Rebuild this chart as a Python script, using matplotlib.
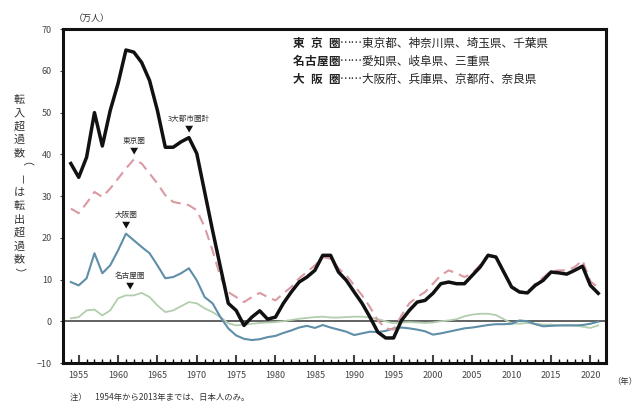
import numpy as np
import matplotlib
matplotlib.use('Agg')
import matplotlib.pyplot as plt
from matplotlib.ticker import MultipleLocator

plt.rcParams['font.family'] = ['Noto Sans CJK JP', 'DejaVu Sans']

years = list(range(1954, 2022))

# 3大都市圏計
total = [37.8, 34.5, 39.3, 50.0, 42.0, 50.5, 57.0, 65.0, 64.5, 62.0,
         57.7, 50.5, 41.7, 41.7, 43.0, 44.0, 40.2, 31.0, 21.8, 13.0,
         4.3, 2.6, -1.0, 1.0, 2.5, 0.5, 1.0, 4.3, 7.0, 9.4,
         10.6, 12.2, 15.8, 15.8, 11.8, 9.8, 7.0, 4.3, 1.0, -2.6,
         -4.0, -4.0, 0.2, 2.6, 4.6, 5.0, 6.7, 9.0, 9.4, 9.0,
         9.0, 11.0, 13.0, 15.8, 15.4, 11.8, 8.2, 7.0, 6.8, 8.6,
         9.8, 11.8, 11.6, 11.3, 12.2, 13.2, 8.6, 6.7]

# 東京圏
tokyo = [27.0, 25.9, 28.3, 31.0, 29.8, 31.8, 34.2, 36.6, 38.8, 37.8,
         35.4, 33.0, 30.2, 28.6, 28.2, 27.8, 26.6, 22.6, 17.0, 10.6,
         7.0, 5.8, 4.6, 5.8, 6.8, 5.8, 5.0, 6.7, 8.2, 10.3,
         11.8, 13.4, 15.4, 15.0, 12.7, 11.0, 8.6, 6.2, 3.4, 0.2,
         -1.7, -2.0, 1.4, 4.3, 5.8, 7.0, 9.0, 11.0, 12.2, 11.5,
         10.6, 11.5, 13.5, 16.0, 15.5, 12.0, 8.5, 7.2, 7.0, 9.0,
         10.5, 12.0, 12.2, 12.2, 13.0, 14.6, 9.6, 8.0]

# 大阪圏
osaka = [9.4, 8.6, 10.3, 16.3, 11.5, 13.4, 17.0, 21.0, 19.4, 17.8,
         16.3, 13.4, 10.3, 10.6, 11.5, 12.7, 9.8, 5.8, 4.3, 1.0,
         -1.7, -3.4, -4.2, -4.5, -4.3, -3.8, -3.5, -2.8, -2.2, -1.5,
         -1.1, -1.6, -0.9, -1.5, -2.0, -2.5, -3.3, -2.9, -2.5, -2.6,
         -2.3, -1.7, -1.5, -1.7, -2.0, -2.4, -3.2, -2.9, -2.5, -2.1,
         -1.7, -1.5, -1.2, -0.9, -0.7, -0.7, -0.6, 0.2, 0.0, -0.7,
         -1.2, -1.1, -1.0, -1.0, -1.0, -0.9, -0.6, -0.1]

# 名古屋圏
nagoya = [0.7, 1.0, 2.6, 2.8, 1.4, 2.6, 5.5, 6.2, 6.2, 6.8,
          5.8, 3.8, 2.2, 2.6, 3.6, 4.6, 4.3, 3.1, 2.2, 1.0,
          -0.5, -1.0, -0.8, -0.6, -0.4, -0.3, -0.2, 0.0, 0.3, 0.6,
          0.8, 1.0, 1.1, 0.9, 0.9, 1.0, 1.1, 1.1, 0.9, 0.5,
          0.0, -0.5, -0.3, -0.2, -0.3, -0.4, -0.3, 0.0, 0.2, 0.5,
          1.2, 1.6, 1.8, 1.8, 1.5, 0.5, -0.5, -0.6, -0.4, -0.6,
          -0.8, -0.8, -1.0, -0.9, -1.0, -1.3, -1.6, -1.0]

legend_rows = [('東京圏', '東京都、神奈川県、埼玉県、千葉県'),
               ('名古屋圏', '愛知県、岐阜県、三重県'),
               ('大阪圏', '大阪府、兵庫県、京都府、奈良県')]

W, H = 638, 405
fig = plt.figure(figsize=(6.38, 4.05), dpi=100)
ax = fig.add_axes([0.0987, 0.1037, 0.8513, 0.8243])

ax.axhline(0, color='#555555', lw=1.3, zorder=1)
ax.plot(years, nagoya, color='#b3ceae', lw=1.3, zorder=2)
ax.plot(years, osaka, color='#5f8ea8', lw=1.5, zorder=3)
ax.plot(years, tokyo, color='#d99aa2', lw=1.5, ls=(0, (5, 3)), zorder=4)
ax.plot(years, total, color='#111111', lw=2.5, zorder=5)

ax.set_xlim(1953, 2022)
ax.set_ylim(-10, 70)
ax.set_xticks(range(1955, 2021, 5))
ax.xaxis.set_minor_locator(MultipleLocator(1))
ax.set_yticks(range(-10, 71, 10))
ax.tick_params(axis='x', which='major', direction='in', length=6, width=1.5, labelsize=6.5,
               colors='#444444', pad=6)
ax.tick_params(axis='x', which='minor', direction='in', length=3, width=1.0)
ax.tick_params(axis='y', direction='out', length=2, width=0.8, labelsize=6.5,
               colors='#444444', pad=6)
for s in ax.spines.values():
    s.set_linewidth(2.2)
    s.set_color('#111111')

# 系列名と▼
notes = [('3大都市圏計', 1969, 44.0), ('東京圏', 1962, 38.8),
         ('大阪圏', 1961, 21.0), ('名古屋圏', 1961.5, 6.5)]
for label, yr, val in notes:
    ax.text(yr, val + 2.0, '▼', ha='center', va='center', fontsize=6, color='#111111')
    ax.text(yr, val + 4.4, label, ha='center', va='center', fontsize=5.5, color='#333333')

# 圏域の説明（文字ごとに配置）
fs = 8.4
cw = fs * 100 / 72
x0 = 293
for i, (head, tail) in enumerate(legend_rows):
    y = 1 - (43 + i * 18) / H
    n = len(head)
    step = 3 / (n - 1)
    for k, ch in enumerate(head):
        fig.text((x0 + k * step * cw) / W, y, ch, fontsize=fs, fontweight='bold',
                 ha='left', va='center', color='#222222')
    fig.text((x0 + 4 * cw) / W, y, '……' + tail, fontsize=fs,
             ha='left', va='center', color='#222222')

fig.text(0.115, 0.955, '（万人）', fontsize=6.5, ha='left', va='center', color='#333333')

# 縦書きの軸ラベル
ylab = '転入超過数（－は転出超過数）'
for i, ch in enumerate(ylab):
    rot = -90 if ch in '（－）' else 0
    fig.text(0.03, 1 - (100 + i * 13.3) / H, ch, fontsize=8, ha='center', va='center',
             color='#333333', rotation=rot)

fig.text(0.98, 0.058, '（年）', fontsize=6, ha='center', va='center', color='#333333')
fig.text(0.11, 0.02, '注）　1954年から2013年までは、日本人のみ。', fontsize=6,
         ha='left', va='center', color='#333333')

fig.savefig('out.png', dpi=100)
